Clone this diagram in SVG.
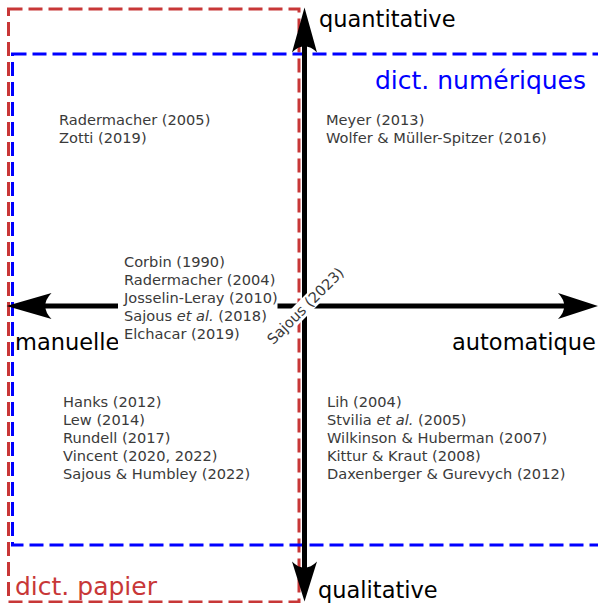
<svg xmlns="http://www.w3.org/2000/svg" width="598" height="603" viewBox="0 0 598 603">
<style>
.ref{font-family:"DejaVu Sans","Liberation Sans",sans-serif;font-size:14.6px;fill:#3a3a3a}
.axis{font-family:"DejaVu Sans","Liberation Sans",sans-serif;font-size:22.5px;fill:#000000}
.zone{font-family:"DejaVu Sans","Liberation Sans",sans-serif;font-size:25px}
.box{fill:none;stroke-width:3;stroke-dasharray:14,6}
.ax{stroke:#000;stroke-width:5;fill:none}
.head{fill:#000}
.bg{fill:#ffffff;stroke:none}
</style>
<rect width="598" height="603" fill="#ffffff"/>
<g id="zone-papier">
<rect class="box" x="8.5" y="9" width="290.5" height="593" stroke="#c83737"/>
<text class="zone" x="15" y="595" fill="#c83737">dict. papier</text>
</g>
<g id="zone-numeriques">
<rect class="box" x="12.5" y="54" width="600" height="491" stroke="#0000ff"/>
<text class="zone" x="375" y="89" fill="#0000ff">dict. numériques</text>
</g>
<g id="connectors">
<line class="ax" x1="304.5" y1="40" x2="304.5" y2="575"/>
<line class="ax" x1="40" y1="306" x2="570" y2="306"/>
<path class="head" d="M304.5,7.5 L317,52.5 Q304.5,40 292,52.5 Z"/>
<path class="head" d="M304.5,601.5 L317,561.5 Q304.5,574 292,561.5 Z"/>
<path class="head" d="M6.5,306 L51.5,293 Q39,306 51.5,319 Z"/>
<path class="head" d="M598,306 L558,293 Q570.5,306 558,319 Z"/>
</g>
<g id="axis-labels">
<text class="axis" x="319" y="27">quantitative</text>
<text class="axis" x="318" y="598">qualitative</text>
<text class="axis" x="15" y="350">manuelle</text>
<text class="axis" x="452" y="350">automatique</text>
</g>
<g id="q-top-left">
<text class="ref" x="59" y="125">Radermacher (2005)</text>
<text class="ref" x="59" y="143">Zotti (2019)</text>
</g>
<g id="q-top-right">
<text class="ref" x="326" y="125">Meyer (2013)</text>
<text class="ref" x="326" y="143">Wolfer &amp; Müller-Spitzer (2016)</text>
</g>
<g id="q-middle-left">
<rect class="bg" x="118" y="252" width="159.5" height="92"/>
<text class="ref" x="124" y="267">Corbin (1990)</text>
<text class="ref" x="124" y="285">Radermacher (2004)</text>
<text class="ref" x="124" y="303">Josselin-Leray (2010)</text>
<text class="ref" x="124" y="321">Sajous <tspan font-style="italic">et al.</tspan> (2018)</text>
<text class="ref" x="124" y="339">Elchacar (2019)</text>
</g>
<g id="q-bottom-left">
<text class="ref" x="63" y="407">Hanks (2012)</text>
<text class="ref" x="63" y="425">Lew (2014)</text>
<text class="ref" x="63" y="443">Rundell (2017)</text>
<text class="ref" x="63" y="461">Vincent (2020, 2022)</text>
<text class="ref" x="63" y="479">Sajous &amp; Humbley (2022)</text>
</g>
<g id="q-bottom-right">
<text class="ref" x="327" y="407">Lih (2004)</text>
<text class="ref" x="327" y="425">Stvilia <tspan font-style="italic">et al.</tspan> (2005)</text>
<text class="ref" x="327" y="443">Wilkinson &amp; Huberman (2007)</text>
<text class="ref" x="327" y="461">Kittur &amp; Kraut (2008)</text>
<text class="ref" x="327" y="479">Daxenberger &amp; Gurevych (2012)</text>
</g>
<g id="center-sajous" transform="translate(305.5,306) rotate(-45)">
<rect class="bg" x="-53" y="-8" width="106" height="16"/>
<text class="ref" x="0" y="5" text-anchor="middle">Sajous (2023)</text>
</g>
</svg>
